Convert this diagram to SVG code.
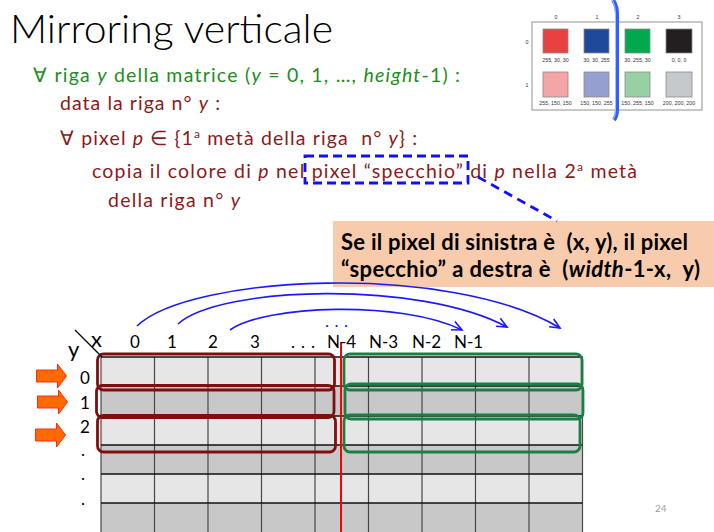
<svg xmlns="http://www.w3.org/2000/svg" width="714" height="532" viewBox="0 0 714 532">
<style>
text{font-family:Lato,"Liberation Sans",sans-serif}
.g{fill:#1f8c24;font-size:19.5px}
.r{fill:#8b1a1a;font-size:19.5px}
.i{font-style:italic}
.lbl{fill:#000;font-size:17px}
.call{fill:#000;font-size:22px;font-weight:bold}
.tiny{fill:#333;font-size:5.3px;text-anchor:middle;font-family:"Liberation Sans",sans-serif}
.sw{stroke:#8a8a8a;stroke-width:0.8}
.lt{fill:#e6e6e6}
.dk{fill:#c8c8c8}
.vline{stroke:#474747;stroke-width:1.2}
.hline{stroke:#111;stroke-width:1.5}
.bx{fill:none;stroke:#7e0f0f;stroke-width:2.8}
.gx{fill:none;stroke:#1a7f45;stroke-width:2.8}
.arc{fill:none;stroke:#1a1aff;stroke-width:1.6}
.oarr{fill:#ff6a00;stroke:#ff2a10;stroke-width:1}
</style>
<defs>
<marker id="ah" markerUnits="userSpaceOnUse" markerWidth="14" markerHeight="12" refX="11" refY="6" orient="auto">
<path d="M1,1.5 L11,6 L1,10.5" fill="none" stroke="#1a1aff" stroke-width="1.6"/>
</marker>
<path id="rarrow" d="M0,-6 H21 V-12 L30,0 L21,12 V6 H0 Z"/>
</defs>

<g id="title">
<text x="10" y="43" font-size="39" font-weight="300" fill="#000" textLength="323" lengthAdjust="spacingAndGlyphs">Mirroring verticale</text>
</g>

<g id="pseudocode">
<text x="33" y="82" class="g" textLength="427">∀ riga <tspan class="i">y</tspan> della matrice (<tspan class="i">y</tspan> = 0, 1, …, <tspan class="i">height</tspan>-1) :</text>
<text x="60" y="110" class="r" textLength="160">data la riga n° <tspan class="i">y</tspan> :</text>
<text x="60" y="145" class="r" textLength="357" xml:space="preserve">∀ pixel <tspan class="i">p</tspan> ∈ {1<tspan font-size="12" baseline-shift="super">a</tspan> metà della riga  n° <tspan class="i">y</tspan>} :</text>
<text x="92" y="178" class="r" textLength="545">copia il colore di <tspan class="i">p</tspan> nel pixel “specchio” di <tspan class="i">p</tspan> nella 2<tspan font-size="12" baseline-shift="super">a</tspan> metà</text>
<text x="108" y="207" class="r" textLength="132">della riga n° <tspan class="i">y</tspan></text>
</g>

<g id="thumbnail">
<rect x="532" y="22" width="170" height="88" fill="#fff" stroke="#777" stroke-width="0.8"/>
<text class="tiny" x="556" y="19">0</text>
<text class="tiny" x="597" y="19">1</text>
<text class="tiny" x="638" y="19">2</text>
<text class="tiny" x="679" y="19">3</text>
<text class="tiny" x="527" y="44">0</text>
<text class="tiny" x="527" y="87">1</text>
<rect class="sw" x="543" y="29" width="25" height="24" fill="#e94040"/>
<rect class="sw" x="584" y="29" width="25" height="24" fill="#1f4a9c"/>
<rect class="sw" x="625" y="29" width="25" height="24" fill="#00a84f"/>
<rect class="sw" x="666" y="29" width="26" height="24" fill="#231f20"/>
<rect class="sw" x="543" y="72" width="25" height="25" fill="#f4a6a6"/>
<rect class="sw" x="584" y="72" width="25" height="25" fill="#95a0d0"/>
<rect class="sw" x="625" y="72" width="25" height="25" fill="#98d0a4"/>
<rect class="sw" x="666" y="72" width="26" height="25" fill="#c5c9cc"/>
<text class="tiny" x="555.5" y="62">255, 30, 30</text>
<text class="tiny" x="596.5" y="62">30, 30, 255</text>
<text class="tiny" x="637.5" y="62">30, 255, 30</text>
<text class="tiny" x="679" y="62">0, 0, 0</text>
<text class="tiny" x="555.5" y="105">255, 150, 150</text>
<text class="tiny" x="596.5" y="105">150, 150, 255</text>
<text class="tiny" x="637.5" y="105">150, 255, 150</text>
<text class="tiny" x="679" y="105">200, 200, 200</text>
<path d="M613,0 Q617,6 617,14 L617,110 Q617,116 614,120" fill="none" stroke="#2f5fff" stroke-width="4"/>
<path d="M612.5,0 Q615.5,6 615.5,14 L615.5,110 Q615.5,116 613,120" fill="none" stroke="#a9c0ff" stroke-width="1"/>
</g>

<g id="callout">
<rect x="333" y="221" width="381" height="66" fill="#f8cbad"/>
<text x="341" y="250" class="call" textLength="347" xml:space="preserve">Se il pixel di sinistra è  (x, y), il pixel</text>
<text x="341" y="277" class="call" textLength="359" xml:space="preserve">“specchio” a destra è  (<tspan class="i">width</tspan>-1-x,  y)</text>
</g>

<g id="highlight">
<rect x="305" y="156" width="163" height="27" fill="none" stroke="#1010ff" stroke-width="2.8" stroke-dasharray="9,5"/>
</g>

<g id="grid">
<rect class="lt" x="101" y="357" width="481.5" height="29"/>
<rect class="dk" x="101" y="386" width="481.5" height="30"/>
<rect class="lt" x="101" y="416" width="481.5" height="29"/>
<rect class="dk" x="101" y="445" width="481.5" height="29"/>
<rect class="lt" x="101" y="474" width="481.5" height="29"/>
<rect class="dk" x="101" y="503" width="481.5" height="29"/>
<g class="vline">
<line x1="101" y1="357" x2="101" y2="532"/>
<line x1="154.5" y1="357" x2="154.5" y2="532"/>
<line x1="208" y1="357" x2="208" y2="532"/>
<line x1="261.5" y1="357" x2="261.5" y2="532"/>
<line x1="315" y1="357" x2="315" y2="532"/>
<line x1="368.5" y1="357" x2="368.5" y2="532"/>
<line x1="422" y1="357" x2="422" y2="532"/>
<line x1="475.5" y1="357" x2="475.5" y2="532"/>
<line x1="529" y1="357" x2="529" y2="532"/>
<line x1="582.5" y1="357" x2="582.5" y2="532"/>
</g>
<g class="hline">
<line x1="101" y1="357" x2="582.5" y2="357"/>
<line x1="101" y1="386" x2="582.5" y2="386"/>
<line x1="101" y1="416" x2="582.5" y2="416"/>
<line x1="101" y1="445" x2="582.5" y2="445"/>
<line x1="101" y1="474" x2="582.5" y2="474"/>
<line x1="101" y1="503" x2="582.5" y2="503"/>
</g>
<line x1="341" y1="342" x2="341" y2="532" stroke="#ff0000" stroke-width="2"/>
</g>

<g id="left-rows">
<rect class="bx" x="97.5" y="354" width="237" height="36" rx="6"/>
<rect class="bx" x="96.5" y="385.5" width="237.5" height="32" rx="6"/>
<rect class="bx" x="97.5" y="415.5" width="238" height="36.5" rx="6"/>
</g>
<g id="right-rows">
<rect class="gx" x="344" y="354" width="238" height="36" rx="6"/>
<rect class="gx" x="345" y="384" width="238" height="35" rx="6"/>
<rect class="gx" x="344" y="415" width="236" height="37" rx="6"/>
</g>

<g id="axes">
<line x1="75" y1="330" x2="102" y2="357" stroke="#000" stroke-width="1.2"/>
<text x="91" y="347" font-size="22" fill="#000">x</text>
<text x="68" y="357" font-size="22" fill="#000">y</text>
<text class="lbl" x="130" y="348">0</text>
<text class="lbl" x="167" y="348">1</text>
<text class="lbl" x="208" y="348">2</text>
<text class="lbl" x="250" y="348">3</text>
<text class="lbl" x="291" y="348" letter-spacing="6">...</text>
<text class="lbl" x="327" y="348">N-4</text>
<text class="lbl" x="369" y="348">N-3</text>
<text class="lbl" x="412" y="348">N-2</text>
<text class="lbl" x="454" y="348">N-1</text>
<text x="325" y="327" font-size="17" fill="#1a1aff" letter-spacing="5.5">...</text>
<text class="lbl" x="80" y="384">0</text>
<text class="lbl" x="80" y="409">1</text>
<text class="lbl" x="80" y="433">2</text>
<text class="lbl" x="81" y="456">.</text>
<text class="lbl" x="81" y="480">.</text>
<text class="lbl" x="81" y="505">.</text>
</g>

<g id="row-arrows">
<use href="#rarrow" class="oarr" transform="translate(36.5,376)"/>
<use href="#rarrow" class="oarr" transform="translate(37.5,402)"/>
<use href="#rarrow" class="oarr" transform="translate(35.5,435)"/>
</g>

<g id="connectors">
<path class="arc" d="M137,326 C190,275 450,262 560,328" marker-end="url(#ah)"/>
<path class="arc" d="M178,324 C220,286 420,280 507,327" marker-end="url(#ah)"/>
<path class="arc" d="M230,330 C265,305 400,300 462,330" marker-end="url(#ah)"/>
<line x1="478" y1="177" x2="557" y2="221" stroke="#1010ff" stroke-width="2.8" stroke-dasharray="9,6"/>
</g>

<g id="page">
<text x="655" y="512" font-size="10" fill="#a0a0a0">24</text>
</g>
</svg>
